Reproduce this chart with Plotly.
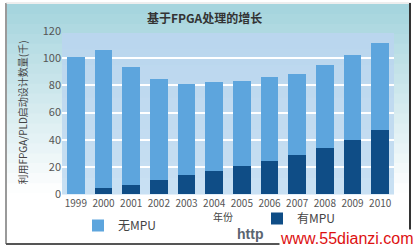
import plotly.graph_objects as go

years = ["1999", "2000", "2001", "2002", "2003", "2004", "2005", "2006",
         "2007", "2008", "2009", "2010"]
total_designs = [101, 106, 93.5, 85, 81, 82.5, 83.5, 86, 88, 95, 102.5, 111]
with_mpu = [0, 4.5, 6.7, 10.3, 14, 17, 20.3, 24.4, 28.8, 34, 39.5, 46.8]
without_mpu = [t - w for t, w in zip(total_designs, with_mpu)]

W, H = 417, 249
L, R, T, B = 62, 23, 31, 55
PW, PH = W - L - R, H - T - B


def px(x):
    return (x - L) / PW


def py(y):
    return (H - B - y) / PH


LIGHT = "#5da5dd"
DARK = "#0f4d86"
FONT = "Noto Sans CJK SC"

fig = go.Figure()
fig.add_trace(go.Bar(x=years, y=with_mpu, name="有MPU", marker_color=DARK,
                     marker_line_width=0, legend="legend2", showlegend=True))
fig.add_trace(go.Bar(x=years, y=without_mpu, name="无MPU", marker_color=LIGHT,
                     marker_line_width=0, legend="legend", showlegend=True))

shapes = []
# gradient frame background
n = 24
top_c = (166, 213, 222)
bot_c = (255, 255, 255)
y0p, y1p = 4, 243
for i in range(n):
    f = i / (n - 1)
    f2 = min(1.0, f * 1.25)
    c = tuple(int(top_c[k] + (bot_c[k] - top_c[k]) * f2) for k in range(3))
    ya = y0p + (y1p - y0p) * i / n
    yb = y0p + (y1p - y0p) * (i + 1) / n
    shapes.append(dict(type="rect", xref="paper", yref="paper", layer="below",
                       x0=px(6), x1=px(410), y0=py(ya), y1=py(yb + 0.5),
                       fillcolor="rgb(%d,%d,%d)" % c, line_width=0))
# plot area background (slightly gradient)
m = 10
for i in range(m):
    f = i / (m - 1)
    c0 = (186, 214, 238)
    c1 = (200, 224, 243)
    c = tuple(int(c0[k] + (c1[k] - c0[k]) * f) for k in range(3))
    ya = T + 2 + (PH - 2) * i / m
    yb = T + 2 + (PH - 2) * (i + 1) / m
    shapes.append(dict(type="rect", xref="paper", yref="paper", layer="below",
                       x0=0, x1=1, y0=py(ya), y1=py(yb + 0.5),
                       fillcolor="rgb(%d,%d,%d)" % c, line_width=0))
# frame borders
shapes.append(dict(type="line", xref="paper", yref="paper", x0=px(6), x1=px(6),
                   y0=py(3), y1=py(244), line=dict(color="#9a9a9a", width=2)))
shapes.append(dict(type="line", xref="paper", yref="paper", x0=px(6), x1=px(411),
                   y0=py(3), y1=py(3), line=dict(color="#dddddd", width=1)))
shapes.append(dict(type="line", xref="paper", yref="paper", x0=px(410), x1=px(410),
                   y0=py(3), y1=py(244), line=dict(color="#333333", width=2)))
shapes.append(dict(type="line", xref="paper", yref="paper", x0=px(6), x1=px(411),
                   y0=py(244), y1=py(244), line=dict(color="#555555", width=2)))

annotations = [
    dict(text="<b>基于FPGA处理的增长</b>", xref="paper", yref="paper",
         x=px(204), y=py(17), showarrow=False, xanchor="center", yanchor="middle",
         font=dict(family=FONT, size=12, color="#333333")),
    dict(text="年份", xref="paper", yref="paper", x=px(223), y=py(216),
         showarrow=False, xanchor="center", yanchor="middle",
         font=dict(family=FONT, size=10, color="#444444")),
    dict(text="<b>http</b>", xref="paper", yref="paper", x=px(250), y=py(234),
         showarrow=False, xanchor="center", yanchor="middle",
         font=dict(family="Liberation Sans", size=14, color="#5a6470")),
    dict(text="www.55dianzi.com", xref="paper", yref="paper", x=px(347), y=py(238),
         showarrow=False, xanchor="center", yanchor="middle", bgcolor="white",
         borderpad=0,
         font=dict(family="Liberation Sans", size=16, color="#dd1111")),
]

fig.update_layout(
    width=W, height=H,
    margin=dict(l=L, r=R, t=T, b=B, autoexpand=False),
    paper_bgcolor="white",
    plot_bgcolor="rgba(0,0,0,0)",
    showlegend=True,
    barmode="stack",
    bargap=0.35,
    shapes=shapes,
    annotations=annotations,
    font=dict(family=FONT, size=11, color="#555555"),
    legend=dict(orientation="h", x=px(78), y=py(211), xanchor="left", yanchor="top",
                bgcolor="rgba(0,0,0,0)", font=dict(family=FONT, size=12, color="#444444"),
                itemwidth=30, visible=True),
    legend2=dict(orientation="h", x=px(257), y=py(204), xanchor="left", yanchor="top",
                 bgcolor="rgba(0,0,0,0)", font=dict(family=FONT, size=12, color="#444444"),
                 itemwidth=30, visible=True),
    xaxis=dict(showgrid=False, showline=False, ticks="", tickfont=dict(size=10, color="#555555"),
               ticklabelstandoff=2),
    yaxis=dict(range=[0, 120], dtick=20, gridcolor="white", gridwidth=2,
               zeroline=False, showline=False, ticks="",
               tickfont=dict(size=11, color="#555555"),
               title=dict(text="利用FPGA/PLD启动设计数量(千)", standoff=13,
                          font=dict(family=FONT, size=10, color="#444444"))),
)

fig.write_html("out.html")
